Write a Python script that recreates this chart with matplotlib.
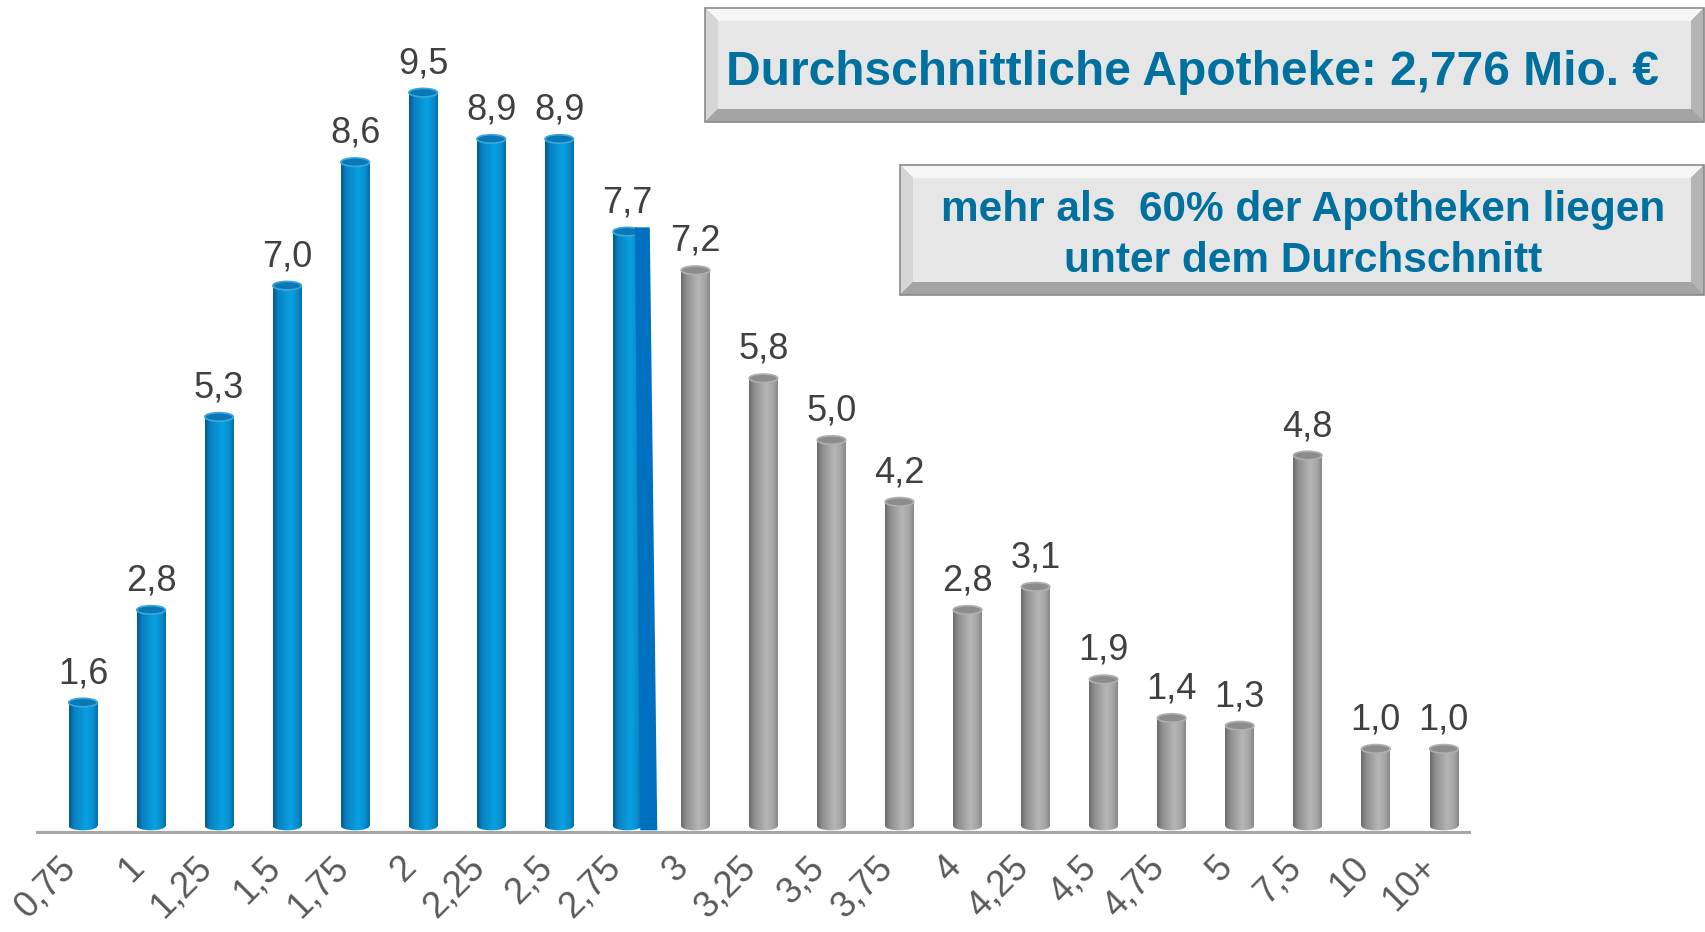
import matplotlib
matplotlib.use("Agg")
import matplotlib.pyplot as plt
import numpy as np
from matplotlib.patches import Rectangle, Ellipse, Polygon
from matplotlib.colors import LinearSegmentedColormap

plt.rcParams['font.family'] = ['Liberation Sans', 'DejaVu Sans']

# Umsatzklassen (Mio. €) und Anteil der Apotheken (%)
categories = ['0,75', '1', '1,25', '1,5', '1,75', '2', '2,25', '2,5', '2,75', '3',
              '3,25', '3,5', '3,75', '4', '4,25', '4,5', '4,75', '5', '7,5', '10', '10+']
shares = [1.6, 2.8, 5.3, 7.0, 8.6, 9.5, 8.9, 8.9, 7.7, 7.2,
          5.8, 5.0, 4.2, 2.8, 3.1, 1.9, 1.4, 1.3, 4.8, 1.0, 1.0]
below_average = 9  # the first classes lie below the average pharmacy
title_text = 'Durchschnittliche Apotheke: 2,776 Mio. €'
note_lines = ['mehr als  60% der Apotheken liegen', 'unter dem Durchschnitt']

W, H = 1706, 932
fig = plt.figure(figsize=(W / 100, H / 100), dpi=100)
fig.patch.set_facecolor('white')


def fx(x):
    return x / W


def fy(y):
    return 1 - y / H


ax = fig.add_axes([fx(37), fy(832), fx(1469) - fx(37), fy(0) - fy(832)])
ax.set_facecolor('none')

blue_cmap = LinearSegmentedColormap.from_list(
    'cyl_blue', [(0, '#005a8e'), (0.18, '#0a80c0'), (0.6, '#08a2e2'), (0.85, '#0a8ccc'), (1, '#006fa8')])
grey_cmap = LinearSegmentedColormap.from_list(
    'cyl_grey', [(0, '#6a6a6a'), (0.18, '#8e8e8e'), (0.6, '#b6b6b6'), (0.85, '#a4a4a4'), (1, '#858585')])
grad = np.linspace(0, 1, 256).reshape(1, -1)

x = np.arange(len(categories))
bw = 0.42
eh = 0.11  # ellipse height in data units
bars = ax.bar(x, shares, width=bw, color='none', edgecolor='none', zorder=2)

for i, (bar, v) in enumerate(zip(bars, shares)):
    blue = i < below_average
    cmap = blue_cmap if blue else grey_cmap
    x0 = bar.get_x()
    x1 = x0 + bar.get_width()
    img = ax.imshow(grad, extent=[x0, x1, 0, v], aspect='auto', cmap=cmap,
                    interpolation='bicubic', zorder=2)
    img.set_clip_path(bar)
    bottom = Ellipse((x[i], 0), bw, eh, facecolor='none', edgecolor='none')
    ax.add_patch(bottom)
    img2 = ax.imshow(grad, extent=[x0, x1, -eh, 0], aspect='auto', cmap=cmap,
                     interpolation='bicubic', zorder=2)
    img2.set_clip_path(bottom)
    top_fc = '#0a78b4' if blue else '#8c8c8c'
    top_ec = '#3aa8de' if blue else '#b0b0b0'
    ax.add_patch(Ellipse((x[i], v), bw, eh, facecolor=top_fc, edgecolor=top_ec,
                         linewidth=1.2, zorder=3))
    ax.annotate(f'{v:.1f}'.replace('.', ','), (x[i], v), xytext=(0, 14),
                textcoords='offset points', ha='center', va='baseline',
                fontsize=26, color='#404040', zorder=4)

# marker strip along the last class below the average
last = below_average - 1
c = x[last]
v = shares[last]
ax.add_patch(Polygon([(c + 0.11, v + eh / 2), (c + 0.33, v + eh / 2),
                      (c + 0.44, -eh / 2), (c + 0.19, -eh / 2)],
                     closed=True, facecolor='#0070c0', edgecolor='none', zorder=3))

ax.set_xlim(-0.676, 20.37)
ax.set_ylim(-0.077, 10.7)
for s in ['top', 'right', 'left']:
    ax.spines[s].set_visible(False)
ax.spines['bottom'].set_color('#a6a6a6')
ax.spines['bottom'].set_linewidth(2.2)
ax.set_yticks([])
ax.set_xticks(x)
ax.set_xticklabels(categories, rotation=45, ha='right', fontsize=26, color='#595959')
ax.tick_params(axis='x', length=0, pad=13)


def bevel_box(x0, y0, x1, y1, b):
    def P(pts, color):
        fig.add_artist(Polygon([(fx(px), fy(py)) for px, py in pts], closed=True,
                               transform=fig.transFigure, facecolor=color,
                               edgecolor='none', zorder=5))
    P([(x0, y0), (x1, y0), (x1, y1), (x0, y1)], '#9a9a9a')
    P([(x0, y0), (x1, y0), (x1 - b, y0 + b), (x0 + b, y0 + b)], '#f6f6f6')
    P([(x0, y0), (x0 + b, y0 + b), (x0 + b, y1 - b), (x0, y1)], '#d6d6d6')
    P([(x0, y1), (x0 + b, y1 - b), (x1 - b, y1 - b), (x1, y1)], '#a4a4a4')
    P([(x1, y0), (x1, y1), (x1 - b, y1 - b), (x1 - b, y0 + b)], '#b4b4b4')
    P([(x0 + b, y0 + b), (x1 - b, y0 + b), (x1 - b, y1 - b), (x0 + b, y1 - b)], '#e6e6e6')
    fig.add_artist(Rectangle((fx(x0), fy(y1)), fx(x1) - fx(x0), fy(y0) - fy(y1),
                             transform=fig.transFigure, facecolor='none',
                             edgecolor='#8a8a8a', linewidth=1.2, zorder=6))


text_color = '#00709e'
bevel_box(705, 8, 1704, 122, 13)
fig.text(fx(1192), fy(85), title_text, ha='center', va='baseline', fontsize=34.5,
         fontweight='bold', color=text_color, zorder=7)

bevel_box(900, 165, 1704, 295, 13)
fig.text(fx(1303), fy(221), note_lines[0], ha='center', va='baseline', fontsize=30.5,
         fontweight='bold', color=text_color, zorder=7)
fig.text(fx(1303), fy(272), note_lines[1], ha='center', va='baseline', fontsize=30.5,
         fontweight='bold', color=text_color, zorder=7)

fig.savefig('out.png', dpi=100, facecolor='white')
